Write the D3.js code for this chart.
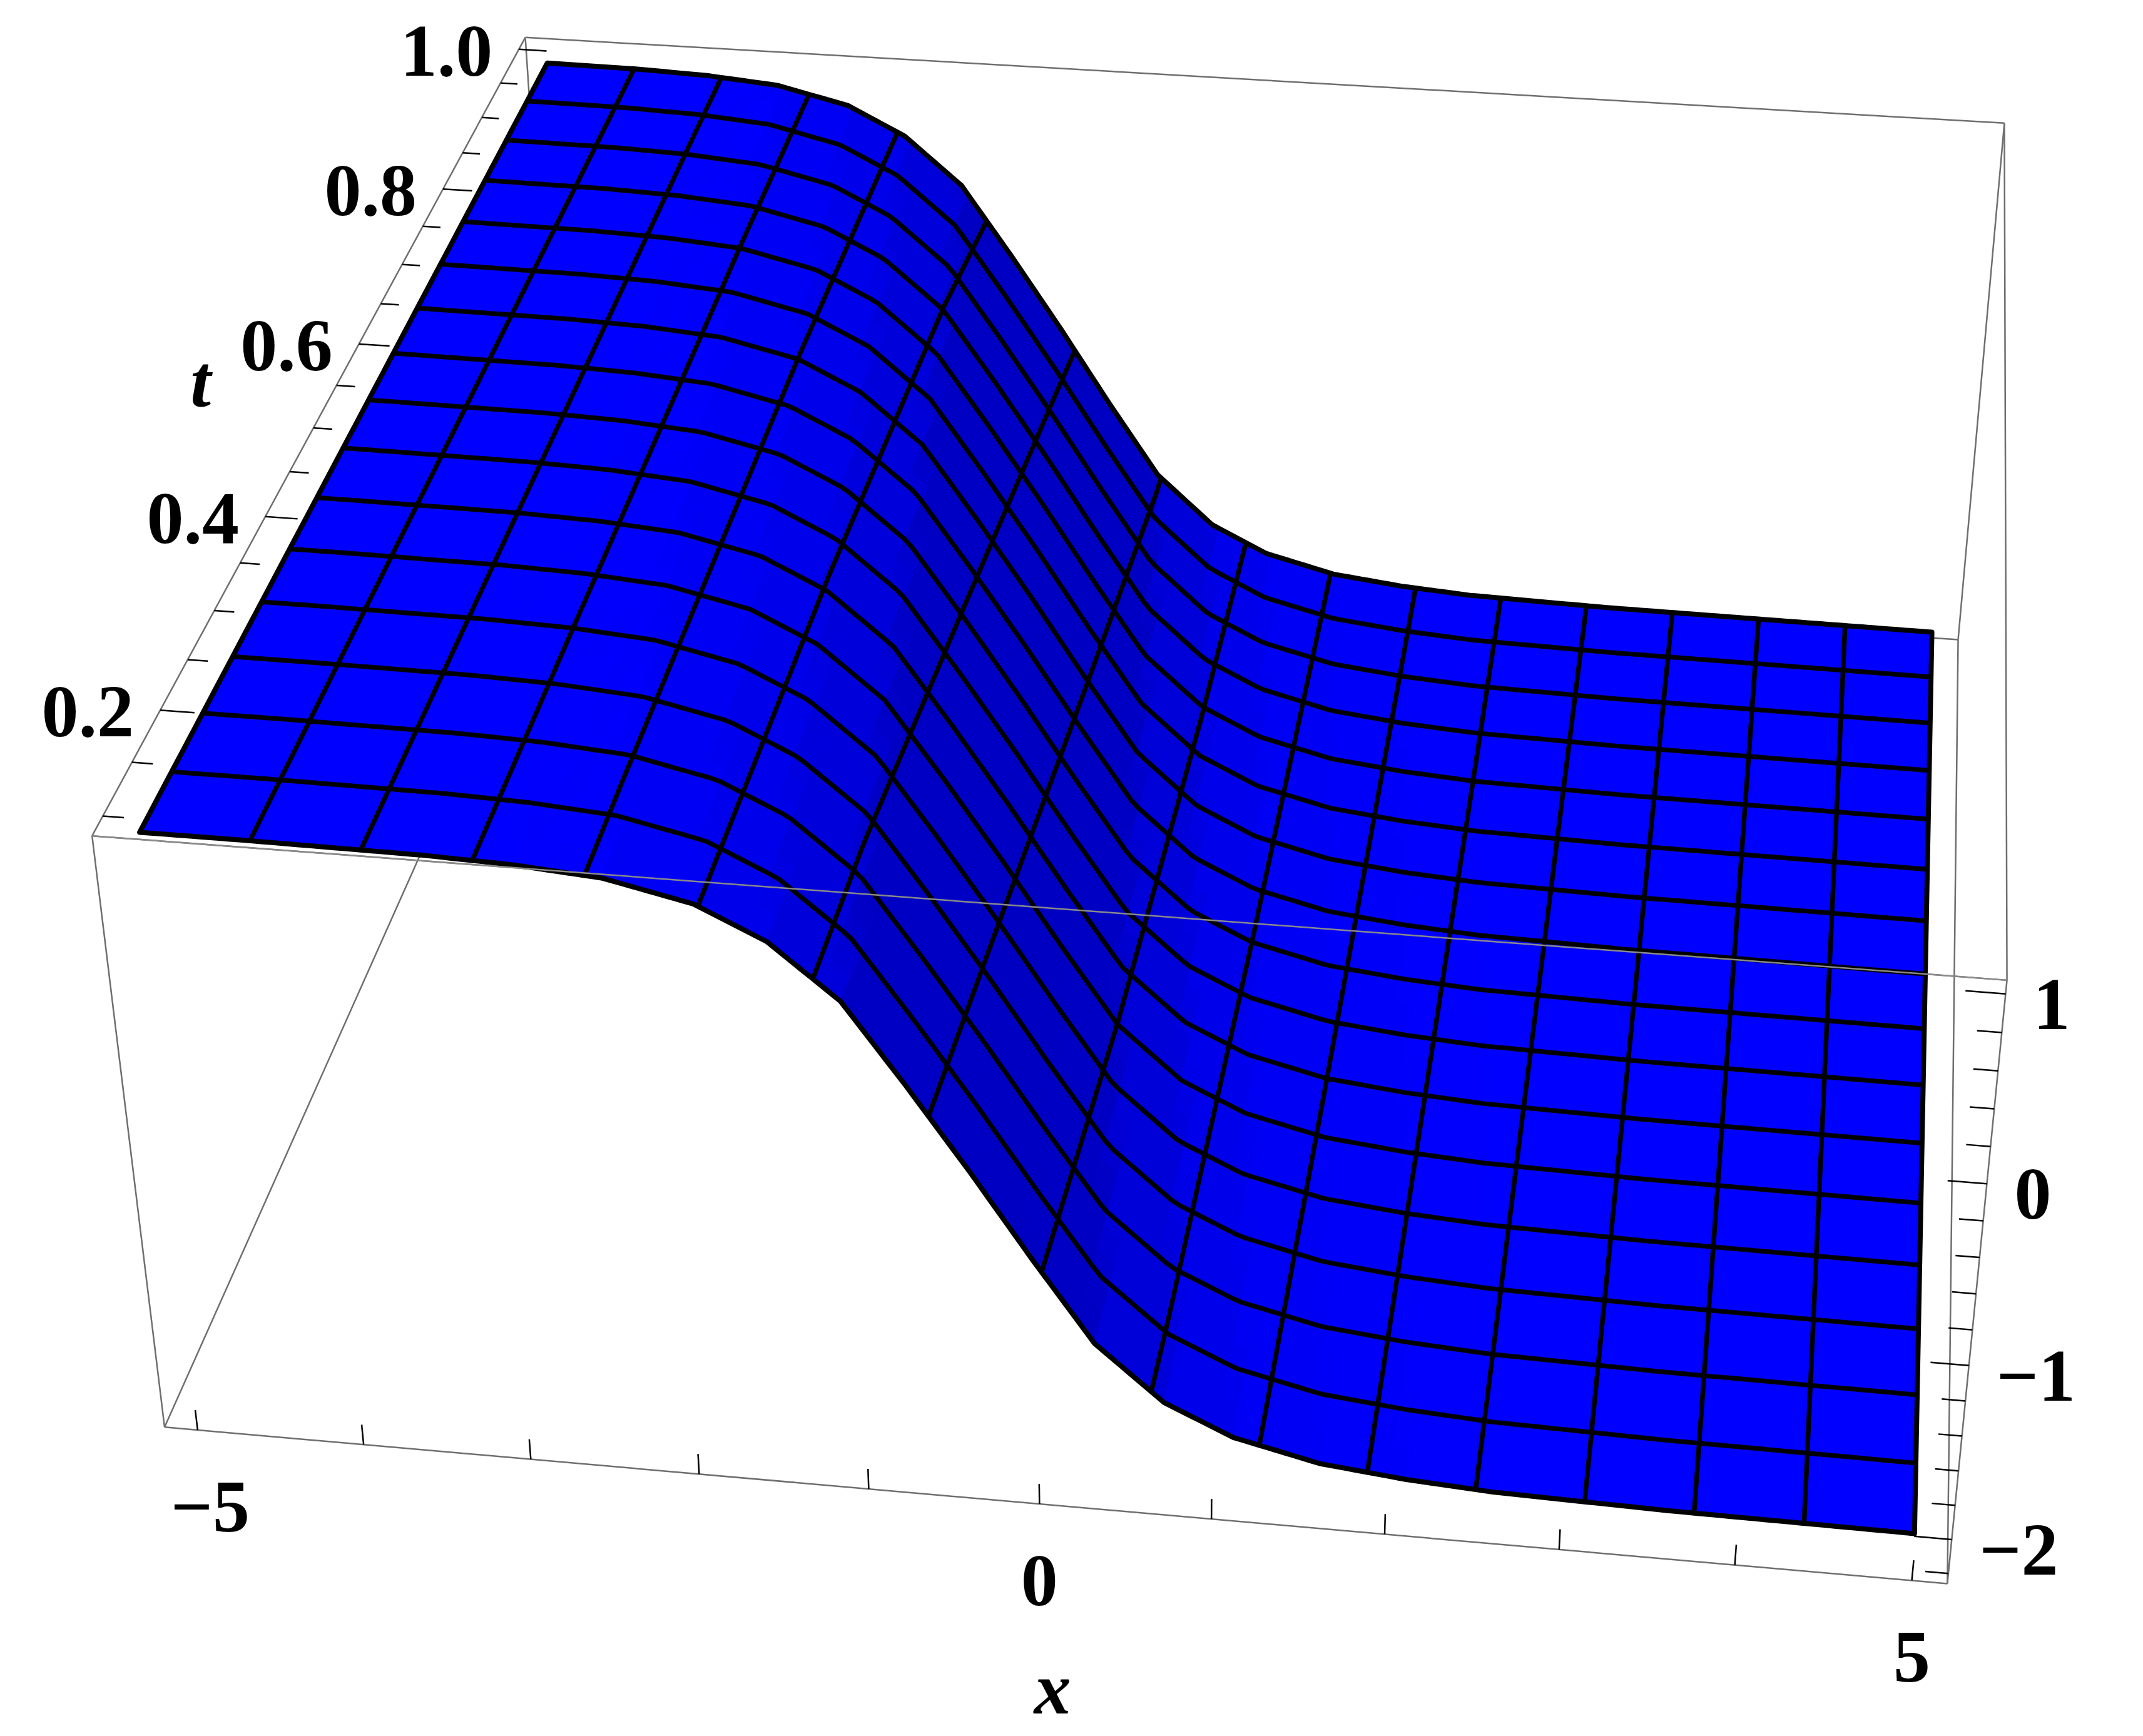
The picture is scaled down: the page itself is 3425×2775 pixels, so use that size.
<!DOCTYPE html>
<html><head><meta charset="utf-8">
<script src="https://cdn.jsdelivr.net/npm/d3@7"></script>
<style>html,body{margin:0;padding:0;background:#fff}</style>
</head><body>
<svg id="c" width="3425" height="2775"></svg>
<script>
// ---- data ----
const xTicks = [-5,-4,-3,-2,-1,0,1,2,3,4,5];
const xTickLabels = [-5,0,5];
const tTicks = [0.1,0.15,0.2,0.25,0.3,0.35,0.4,0.45,0.5,0.55,0.6,0.65,0.7,0.75,0.8,0.85,0.9,0.95,1.0];
const tTickLabels = [0.2,0.4,0.6,0.8,1.0];
const zTicks = [-2.2,-2,-1.8,-1.6,-1.4,-1.2,-1,-0.8,-0.6,-0.4,-0.2,0,0.2,0.4,0.6,0.8,1];
const zTickLabels = [1,0,-1,-2];
// wave profile: height vs distance from kink centre
const profileXi = [-6,-4,-3,-2.5,-2,-1.5,-1.1,-0.7,-0.35,0,0.35,0.7,1.1,1.5,2,2.5,3,4,7];
const profileZ  = [1.0,0.998,0.99,0.975,0.94,0.84,0.67,0.38,-0.05,-0.5,-0.97,-1.42,-1.73,-1.90,-2.01,-2.06,-2.09,-2.11,-2.13];
// kink centre position at front and back of the t range
const kinkT = [0.1,1.0];
const kinkCenter = [-0.4,-1.35];

// ---- box / camera calibration ----
const xDom=[-5.2,5.2], tDom=[0.082,1.018], zDom=[-2.26,1.07];
const sx=d3.scaleLinear(xDom,[0,1]), st=d3.scaleLinear(tDom,[0,1]), sz=d3.scaleLinear(zDom,[0,1]);
const calib = [
 [-5.2,0.082,1.07,147,1337],[-5.2,0.082,-2.26,264,2283],[-5.2,1.018,1.07,841,58],
 [5.2,1.018,1.07,3202,195],[5.2,1.018,-2.26,3130,1025],[5.2,0.082,1.07,3207,1567],
 [5.2,0.082,-2.26,3111,2533],[-5,0.082,-2.26,313,2287],[0,0.082,-2.26,1662,2395],
 [5,0.082,-2.26,3055,2528],[5.2,0.082,1,3206,1589],[5.2,0.082,-2,3122,2461],
 [-5.2,0.2,1.07,256,1138],[-5.2,0.6,1.07,575,549],[-5.2,1.0,1.07,828,80]];
function solve(A,b){const n=b.length;for(let i=0;i<n;i++){let p=i;for(let r=i+1;r<n;r++)if(Math.abs(A[r][i])>Math.abs(A[p][i]))p=r;
 [A[i],A[p]]=[A[p],A[i]];[b[i],b[p]]=[b[p],b[i]];for(let r=i+1;r<n;r++){const f=A[r][i]/A[i][i];for(let c=i;c<n;c++)A[r][c]-=f*A[i][c];b[r]-=f*b[i];}}
 const x=new Array(n).fill(0);for(let i=n-1;i>=0;i--){let s=b[i];for(let c=i+1;c<n;c++)s-=A[i][c]*x[c];x[i]=s/A[i][i];}return x;}
const ATA=d3.range(11).map(()=>new Array(11).fill(0)), ATb=new Array(11).fill(0);
calib.forEach(([x,t,z,u,v])=>{const X=sx(x),Y=st(t),Z=sz(z);
 [[[X,Y,Z,1,0,0,0,0,-u*X,-u*Y,-u*Z],u],[[0,0,0,0,X,Y,Z,1,-v*X,-v*Y,-v*Z],v]].forEach(([r,y])=>{
  for(let i=0;i<11;i++){ATb[i]+=r[i]*y;for(let j=0;j<11;j++)ATA[i][j]+=r[i]*r[j];}});});
const P=solve(ATA,ATb);
function proj(x,t,z){const X=sx(x),Y=st(t),Z=sz(z);const w=P[8]*X+P[9]*Y+P[10]*Z+1;
 return [(P[0]*X+P[1]*Y+P[2]*Z+P[3])/w,(P[4]*X+P[5]*Y+P[6]*Z+P[7])/w];}

const prof=d3.scaleLinear(profileXi,profileZ);
const cen=d3.scaleLinear(kinkT,kinkCenter);
const zf=(x,t)=>prof(x-cen(t));

const svg=d3.select('#c');
svg.append('rect').attr('width',3425).attr('height',2775).attr('fill','#fff');
const line=d3.line();
const seg=(g,a,b,col,w)=>g.append('path').attr('d',line([proj(...a),proj(...b)])).attr('stroke',col).attr('stroke-width',w).attr('fill','none');

// box edges (behind)
const [xa,xb]=xDom,[ta,tb]=tDom,[za,zb]=zDom;
const C=(i,j,k)=>[[xa,xb][i],[ta,tb][j],[za,zb][k]];
const gBox=svg.append('g');
const edges=[];
for(let j=0;j<2;j++)for(let k=0;k<2;k++)edges.push([C(0,j,k),C(1,j,k)]);
for(let i=0;i<2;i++)for(let k=0;k<2;k++)edges.push([C(i,0,k),C(i,1,k)]);
for(let i=0;i<2;i++)for(let j=0;j<2;j++)edges.push([C(i,j,0),C(i,j,1)]);
edges.forEach(([a,b])=>seg(gBox,a,b,'#6e6e6e',2.5));

// surface
const nx=100, nt=36, x0=-5,x1=5,t0=0.1,t1=1.0;
const xs=d3.range(nx+1).map(i=>x0+(x1-x0)*i/nx), ts=d3.range(nt+1).map(j=>t0+(t1-t0)*j/nt);
const shade=d3.scaleLinear([0,1.1,2],['#0000ff','#0000c8','#0000b4']).clamp(true);
const gS=svg.append('g');
for(let j=nt-1;j>=0;j--){for(let i=0;i<nx;i++){
 const a=xs[i],b=xs[i+1],c=ts[j],d=ts[j+1];
 const pts=[proj(a,c,zf(a,c)),proj(b,c,zf(b,c)),proj(b,d,zf(b,d)),proj(a,d,zf(a,d))];
 const slope=Math.abs((zf(b,c)-zf(a,c))/(b-a));
 const col=shade(slope);
 gS.append('path').attr('d',line(pts)+'Z').attr('fill',col).attr('stroke',col).attr('stroke-width',1.2);}}
// mesh
const gM=svg.append('g').attr('fill','none').attr('stroke','#000').attr('stroke-width',7.5).attr('stroke-linejoin','round');
const fineX=d3.range(201).map(i=>x0+(x1-x0)*i/200), fineT=d3.range(61).map(j=>t0+(t1-t0)*j/60);
d3.range(1,16).map(k=>t0+(t1-t0)*k/16).forEach(t=>gM.append('path').attr('d',line(fineX.map(x=>proj(x,t,zf(x,t))))));
d3.range(1,16).map(k=>x0+(x1-x0)*k/16).forEach(x=>gM.append('path').attr('d',line(fineT.map(t=>proj(x,t,zf(x,t))))));
const border=[...fineX.map(x=>[x,t0]),...fineT.map(t=>[x1,t]),...fineX.slice().reverse().map(x=>[x,t1]),...fineT.slice().reverse().map(t=>[x0,t])];
gM.append('path').attr('d',line(border.map(([x,t])=>proj(x,t,zf(x,t))))+'Z').attr('stroke-width',8);

// front top edge over surface
seg(svg,C(0,0,1),C(1,0,1),'#8a8a8a',2.5);

// axes ticks
const gT=svg.append('g');
xTicks.forEach(x=>seg(gT,[x,ta,za],[x,ta,za+0.12],'#000',2.5));
zTicks.forEach(z=>{const maj=Math.abs(z-Math.round(z))<1e-6;seg(gT,[xb,ta,z],[xb-(maj?0.21:0.13),ta,z],'#000',2.5);});
tTicks.forEach(t=>{const maj=Math.abs(t*5-Math.round(t*5))<1e-6;seg(gT,[xa,t,zb],[xa+(maj?0.2:0.12),t,zb],'#000',2.5);});

const font='"Liberation Serif","Times New Roman",serif';
const lab=(x,y,txt,anchor,italic)=>svg.append('text').attr('x',x).attr('y',y).attr('text-anchor',anchor)
 .attr('font-family',font).attr('font-weight','bold').attr('font-style',italic?'italic':'normal').attr('font-size',118).text(txt);
const fmt=v=>(v<0?'\u2212':'')+Math.abs(v);
xTickLabels.forEach(x=>{const p=proj(x,ta,za);lab(p[0]+(x<0?20:0),p[1]+162,fmt(x),'middle');});
zTickLabels.forEach(z=>{const p=proj(xb,ta,z);lab(p[0]+44,p[1]+56,fmt(z),'start');});
tTickLabels.forEach(t=>{const p=proj(xa,t,zb);lab(p[0]-42,p[1]+42,t.toFixed(1),'end');});
{const p=proj(0,ta,za);lab(p[0]+21,p[1]+335,'x','middle',true);}
{const p=proj(xa,0.6,zb);lab(p[0]-253,p[1]+100,'t','middle',true);}
</script>
</body></html>
